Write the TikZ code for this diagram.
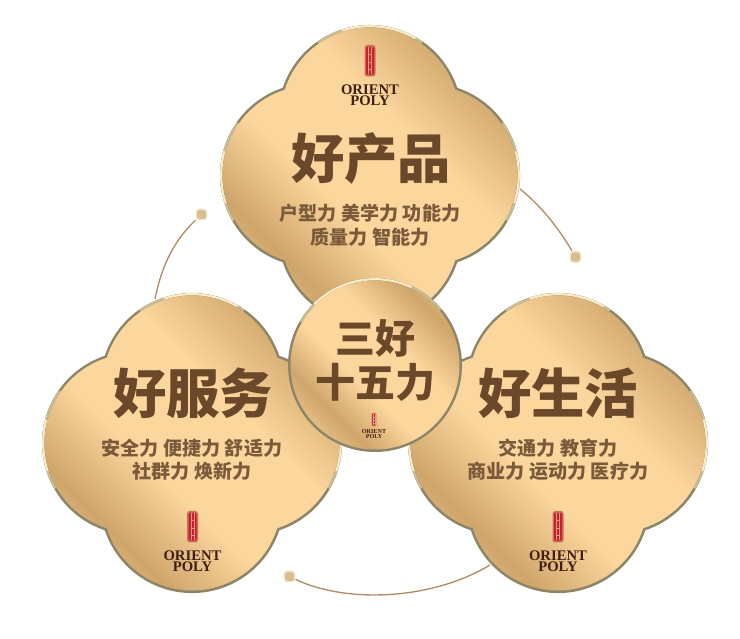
\documentclass[tikz,border=0pt]{standalone}
\usepackage{fontspec}
\newfontfamily\cjk{Noto Sans CJK SC}
\newfontfamily\logofont{Liberation Serif}
\usetikzlibrary{calc}
\definecolor{goldD}{HTML}{CFA56B}
\definecolor{goldM}{HTML}{E4BF86}
\definecolor{goldL}{HTML}{FBD69D}
\definecolor{rim}{HTML}{8C8669}
\definecolor{rimA}{HTML}{C9BF97}
\definecolor{rimB}{HTML}{F8EBC8}
\definecolor{ink}{HTML}{6A4829}
\definecolor{subink}{HTML}{7A5A3A}
\definecolor{logoink}{HTML}{3E1F12}
\definecolor{sealR}{HTML}{C8202B}
\definecolor{sealE}{HTML}{C9705E}
\definecolor{sealV}{HTML}{E59A84}
\definecolor{linkc}{HTML}{AE8E62}
\definecolor{dotc}{HTML}{D9BE8E}
\definecolor{dotb}{HTML}{F3E8CF}
\pgfdeclarehorizontalshading{goldband}{100bp}{color(0bp)=(goldL);color(18bp)=(goldL);color(31bp)=(goldD);color(43bp)=(goldL);color(59bp)=(goldL);color(73bp)=(goldD);color(86bp)=(goldL);color(100bp)=(goldL)}
% four circle-lobes: notch n, radius r, half angle a
\newcommand{\lobes}[3]{(-#1,#1) arc[start angle=180-#3,end angle=#3,radius=#2*.75pt]
  arc[start angle=90-#3,end angle=-90+#3,radius=#2*.75pt]
  arc[start angle=-#3,end angle=-180+#3,radius=#2*.75pt]
  arc[start angle=270-#3,end angle=90+#3,radius=#2*.75pt] -- cycle}
\newcommand{\cloudshape}[2]{%
  \begin{scope}[shift={(#1,#2)}]
    \fill[rim] \lobes{87.2}{92}{18.5};
    \draw[rimA,line width=1.6pt] (0,58) ++(125:90.8*.75pt) arc[start angle=125,end angle=55,radius=90.8*.75pt];
    \draw[rimB,line width=1.6pt] (0,58) ++(108:90.8*.75pt) arc[start angle=108,end angle=60,radius=90.8*.75pt];
    \draw[rimA,line width=1.6pt] (58,0) ++(35:90.8*.75pt) arc[start angle=35,end angle=-30,radius=90.8*.75pt];
    \draw[rimB,line width=1.6pt] (58,0) ++(15:90.8*.75pt) arc[start angle=15,end angle=-18,radius=90.8*.75pt];
    \draw[rimA,line width=1.6pt] (-58,0) ++(145:90.8*.75pt) arc[start angle=145,end angle=210,radius=90.8*.75pt];
    \draw[rimB,line width=1.6pt] (-58,0) ++(165:90.8*.75pt) arc[start angle=165,end angle=198,radius=90.8*.75pt];
    \shade[shading=goldband,shading angle=45] \lobes{85.25}{89.5}{17.75};
  \end{scope}}
% logo: x, y of seal top, scale factor, name, font size, line spacing
\newcommand{\logomark}[6]{%
  \begin{scope}[shift={(#1,#2)},scale=#3]
    \fill[sealE,rounded corners=2pt*#3] (-5.5,0) rectangle (5.5,-31.5);
    \fill[sealR,rounded corners=1pt*#3] (-4,-1.8) rectangle (4,-29.7);
    \draw[sealV,line width=.4pt*#3] (-1.5,-2) -- (-1.5,-29.5) (1.5,-2) -- (1.5,-29.5) (-1.5,-9) -- (1.5,-9) (-1.5,-17) -- (1.5,-17) (-1.5,-24) -- (1.5,-24);
    \node[inner sep=0pt,align=center,text=logoink,font=\logofont\bfseries\fontsize{#5}{#6}\selectfont] (#4) at (0,-50) {ORIENT\\POLY};
  \end{scope}}
\tikzset{
  bigt/.style={inner sep=0pt,text=ink,font=\cjk\bfseries\fontsize{40}{40}\selectfont},
  midt/.style={inner sep=0pt,text=ink,font=\cjk\bfseries\fontsize{30}{30}\selectfont},
  subt/.style={inner sep=0pt,text=subink,font=\cjk\bfseries\fontsize{14.3}{14.3}\selectfont},
  linkl/.style={draw=linkc,line width=1pt},
  dotn/.style={rectangle,rounded corners=2.6pt,inner sep=0pt,minimum size=8pt,fill=dotc,draw=dotb,line width=1pt}
}
\begin{document}
\begin{tikzpicture}[x=.75pt,y=.75pt]
\useasboundingbox (0,0) rectangle (740,639);
% connectors
\node[dotn] (d1) at (575.5,382) {};
\node[dotn] (d2) at (201.5,424.5) {};
\node[dotn] (d3) at (289.5,62.5) {};
\coordinate (s1) at (520,450);
\coordinate (s2) at (155,340);
\coordinate (s3) at (490,74);
\draw[linkl] (s1) .. controls (545,430) and (562,405) .. (d1);
\draw[linkl] (s2) .. controls (163,380) and (178,402) .. (d2);
\draw[linkl] (s3) .. controls (430,38) and (345,36) .. (d3);
% shapes
\cloudshape{370}{464}
\cloudshape{192}{196}
\cloudshape{558}{196}
\fill[rim] (375,274) circle[radius=87*.75pt];
\draw[rimA,line width=1.6pt] (375,274) ++(150:85.8*.75pt) arc[start angle=150,end angle=40,radius=85.8*.75pt];
\draw[rimB,line width=1.6pt] (375,274) ++(135:85.8*.75pt) arc[start angle=135,end angle=65,radius=85.8*.75pt];
\shade[shading=goldband,shading angle=45] (375,274) circle[radius=84.5*.75pt];
% top
\logomark{370}{594}{1}{lt}{11}{8}
\node[bigt] (t1) at (371,481) {好产品};
\node[subt] (t1a) at (370,426) {户型力 美学力 功能力};
\node[subt] (t1b) at (370,402) {质量力 智能力};
% left
\logomark{192.5}{128}{1}{ll}{11}{8}
\node[bigt] (t2) at (193,246) {好服务};
\node[subt] (t2a) at (192,191) {安全力 便捷力 舒适力};
\node[subt] (t2b) at (192,168) {社群力 焕新力};
% right
\logomark{558}{128}{1}{lr}{11}{8}
\node[bigt] (t3) at (558,246) {好生活};
\node[subt] (t3a) at (558,191) {交通力 教育力};
\node[subt] (t3b) at (558,168) {商业力 运动力 医疗力};
% centre
\node[midt] (c1) at (375,301) {三好};
\node[midt] (c2) at (375,257) {十五力};
\logomark{374}{226}{.42}{lc}{4.6}{3.3}
\end{tikzpicture}
\end{document}
